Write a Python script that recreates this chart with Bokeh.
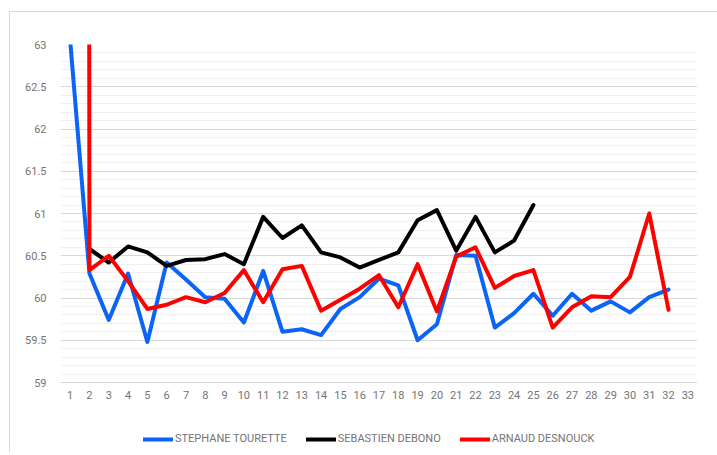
import math
from bokeh.plotting import figure
from bokeh.models import (FixedTicker, Range1d, Legend, LegendItem, ColumnDataSource)
from bokeh.embed import file_html
from bokeh.resources import INLINE

nan = float("nan")

laps = list(range(1, 34))
y_ticks = [59, 59.5, 60, 60.5, 61, 61.5, 62, 62.5, 63]

tourette = [63.05, 60.29, 59.74, 60.29, 59.48, 60.42, 60.22, 60.01, 59.99, 59.71,
            60.32, 59.60, 59.63, 59.56, 59.87, 60.01, 60.23, 60.15, 59.50, 59.69,
            60.51, 60.50, 59.65, 59.82, 60.05, 59.79, 60.05, 59.85, 59.96, 59.83,
            60.01, 60.10, nan]
debono = [nan, 60.58, 60.42, 60.61, 60.54, 60.38, 60.45, 60.46, 60.52, 60.40,
          60.96, 60.71, 60.86, 60.54, 60.48, 60.36, 60.45, 60.54, 60.92, 61.04,
          60.56, 60.96, 60.54, 60.68, 61.10, nan, nan, nan, nan, nan,
          nan, nan, nan]
desnouck = [300.0, 60.33, 60.50, 60.20, 59.87, 59.92, 60.01, 59.95, 60.06, 60.33,
            59.95, 60.34, 60.38, 59.85, 59.98, 60.11, 60.27, 59.89, 60.40, 59.84,
            60.49, 60.60, 60.12, 60.26, 60.33, 59.65, 59.89, 60.02, 60.01, 60.25,
            61.00, 59.86, nan]

series = [("STEPHANE TOURETTE", tourette, "#0a64f5"),
          ("SEBASTIEN DEBONO", debono, "#000000"),
          ("ARNAUD DESNOUCK", desnouck, "#ff0000")]

FONT = "Roboto"
TXT = "#747474"

Y_TOP = 63.0
Y_BOTTOM_TICK = 59.0
FRAME_H = 408
PLOT_H = 338   # pixels between 59 and 63
y_start = Y_TOP - (Y_TOP - Y_BOTTOM_TICK) * FRAME_H / PLOT_H

p = figure(frame_width=637, frame_height=FRAME_H, output_backend="svg",
           toolbar_location=None, x_axis_location="above",
           x_range=Range1d(0.5, 33.5), y_range=Range1d(y_start, Y_TOP),
           min_border_left=50, min_border_right=20, min_border_top=32,
           min_border_bottom=0)
p.styles = {"border-left": "1px solid #d9d9d9", "border-top": "1px solid #d9d9d9",
            "margin-left": "9px", "margin-top": "11px"}
p.outline_line_color = None
p.background_fill_color = "white"
p.border_fill_color = "white"

for ax in (p.xaxis[0], p.yaxis[0]):
    ax.axis_line_color = None
    ax.major_tick_line_color = None
    ax.minor_tick_line_color = None
    ax.major_label_text_font = FONT
    ax.major_label_text_font_size = "11px"
    ax.major_label_text_color = TXT

p.xaxis.ticker = FixedTicker(ticks=laps)
p.xaxis.major_label_standoff = 0
p.xaxis.fixed_location = Y_BOTTOM_TICK - 22.0 / 84.5
p.yaxis.ticker = FixedTicker(ticks=y_ticks, minor_ticks=[59 + i * 0.1 for i in range(41)])
p.yaxis.major_label_standoff = 8
p.yaxis.formatter.use_scientific = False

p.xgrid.grid_line_color = None
p.ygrid.grid_line_color = "#d9d9d9"
p.ygrid.grid_line_width = 1
p.ygrid.minor_grid_line_color = "#f0f0f0"
p.ygrid.minor_grid_line_width = 1

items = []
for name, vals, color in series:
    src = ColumnDataSource(dict(x=laps, y=vals))
    r = p.line("x", "y", source=src, line_color=color, line_width=4,
               line_join="round", line_cap="round")
    items.append(LegendItem(label=name, renderers=[r]))

legend = Legend(items=items, orientation="horizontal", location=(83, 7),
                label_text_font=FONT, label_text_font_size="11px",
                label_text_color=TXT, glyph_width=30, glyph_height=12,
                label_standoff=2, spacing=19, padding=2, margin=0,
                border_line_color=None, background_fill_alpha=0)
p.add_layout(legend, "center")

open("out.html", "w").write(file_html(p, INLINE))
